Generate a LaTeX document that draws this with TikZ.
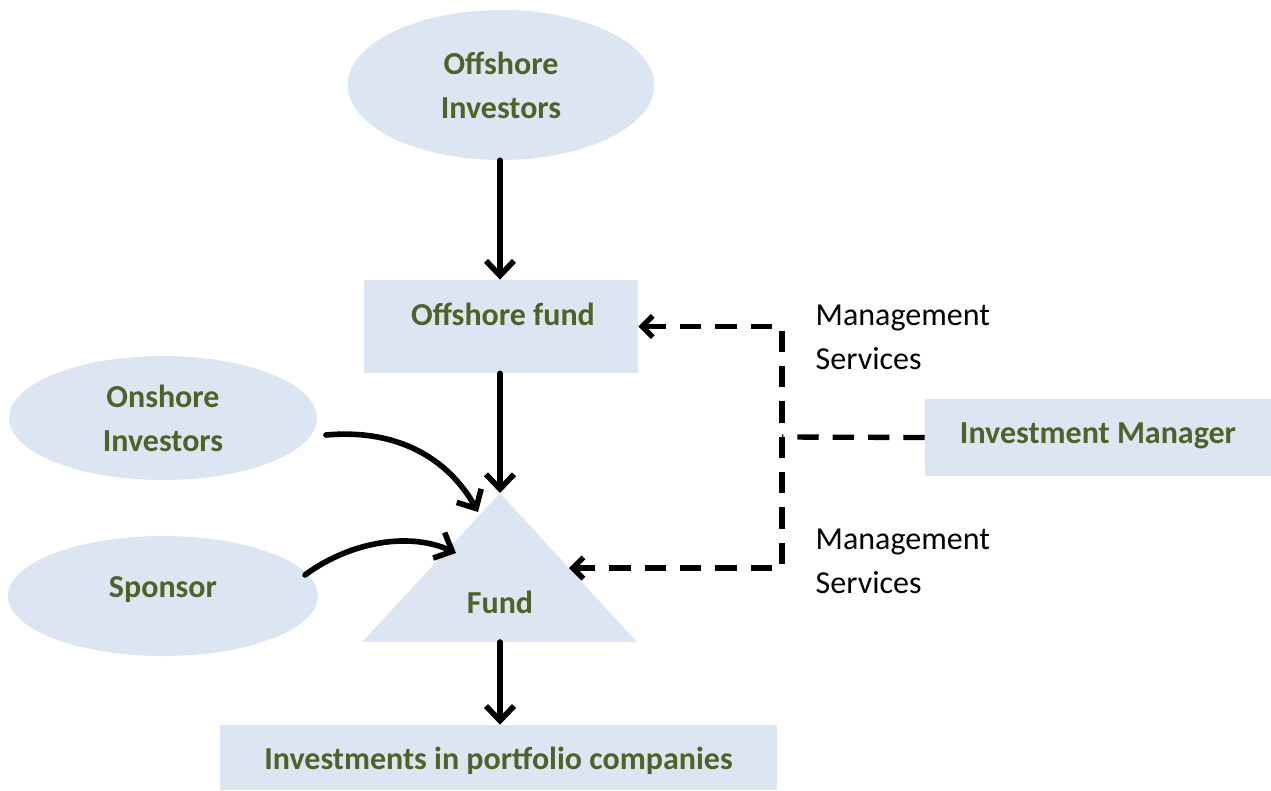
\documentclass[tikz,border=0pt]{standalone}
\usepackage{fontspec}
\setmainfont{Carlito}
\usetikzlibrary{arrows.meta,calc,shapes.geometric}
\definecolor{boxfill}{HTML}{DCE6F2}
\definecolor{txtgreen}{HTML}{4F6228}
\tikzset{
  lbl/.style={font=\fontsize{24}{33}\selectfont\bfseries, text=txtgreen, align=center},
  oval/.style={ellipse, fill=boxfill, inner sep=0pt},
  rbox/.style={rectangle, fill=boxfill, inner sep=0pt},
  plain/.style={font=\fontsize{24}{33}\selectfont, text=black, align=left, anchor=west},
  flow/.style={line width=4.2pt, line cap=round, -{Straight Barb[length=11pt,width=21pt,line width=4.2pt]}},
  mgmt/.style={line width=4pt, dash pattern=on 16pt off 10.5pt, {Straight Barb[length=8pt,width=16pt,line width=4pt]}-{Straight Barb[length=8pt,width=16pt,line width=4pt]}},
  mgmtline/.style={line width=4pt, dash pattern=on 16pt off 10.5pt}
}
\begin{document}
\begin{tikzpicture}[x=0.75pt,y=-0.75pt]
\useasboundingbox (0,0) rectangle (1271,790);
% shapes
\node[oval, minimum width=230pt, minimum height=112.5pt] (offinv) at (501,85) {};
\node[lbl] (offinvt) at (501,85) {Offshore\\Investors};
\node[rbox, minimum width=205.5pt, minimum height=70pt] (offfund) at (501,326.5) {};
\node[lbl] (offfundt) at (503,314) {Offshore fund};
\node[oval, minimum width=231pt, minimum height=93pt] (onshore) at (163,418) {};
\node[lbl] (onshoret) at (163,418) {Onshore\\Investors};
\node[oval, minimum width=232.5pt, minimum height=90pt] (sponsor) at (163,596) {};
\node[lbl] (sponsort) at (163,590) {Sponsor};
\coordinate (apex) at (500,493);
\coordinate (fundbl) at (362,642);
\coordinate (fundbr) at (637,642);
\coordinate (fundbase) at (500,642);
\fill[boxfill] (apex) -- (fundbr) -- (fundbl) -- cycle;
\node[lbl] (fund) at (500,602) {Fund};
\node[rbox, minimum width=417.75pt, minimum height=48.75pt] (invest) at (498.5,757.5) {};
\node[lbl] (investt) at (498.5,761) {Investments in portfolio companies};
\node[rbox, minimum width=259.5pt, minimum height=57.75pt] (im) at (1098,437.5) {};
\node[lbl] (imt) at (1098,436) {Investment Manager};
\node[plain] (ms1) at (811,337) {Management\\Services};
\node[plain] (ms2) at (811,561) {Management\\Services};
% solid connectors
\draw[flow] (offinv.south -| apex) -- (offfund.north -| apex);
\draw[flow] (offfund.south -| apex) -- (apex);
\draw[flow] (fundbase) -- (invest.north -| fundbase);
\coordinate (onstart) at ($(onshore.center)+(163,17)$);
\coordinate (onend) at (478,512);
\draw[flow] (onstart) .. controls (405,428) and (452,465) .. (onend);
\coordinate (spstart) at ($(sponsor.center)+(142,-21)$);
\coordinate (spend) at (456,553);
\draw[flow] (spstart) .. controls (345,545) and (405,530) .. (spend);
% dashed connectors
\coordinate (jn) at (782,437);
\coordinate (jnb) at (782,568);
\coordinate (fundr) at (569,568);
\draw[mgmtline] (im.west) -- (jn);
\draw[mgmt] (offfund.east) -| (jnb) -- (fundr);
\end{tikzpicture}
\end{document}
